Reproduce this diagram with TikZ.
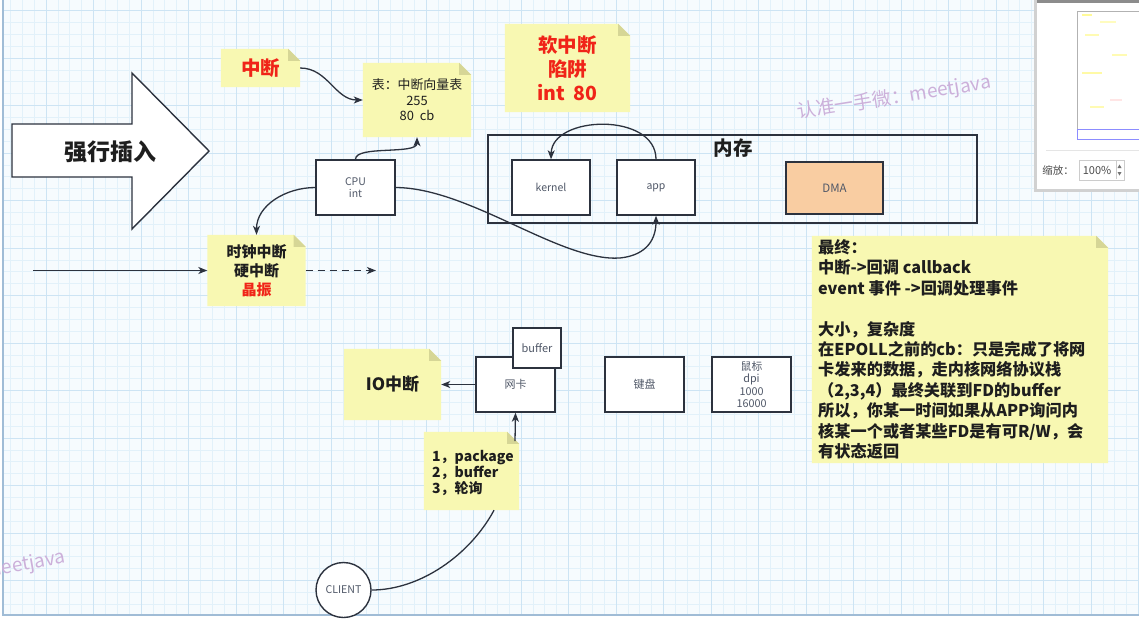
\documentclass[tikz,border=0pt]{standalone}
\usepackage{fontspec}
\setmainfont{Noto Sans CJK SC}
\usetikzlibrary{arrows.meta}
\definecolor{bgc}{RGB}{246,251,254}
\definecolor{minorc}{RGB}{226,241,250}
\definecolor{majorc}{RGB}{205,228,244}
\definecolor{edgec}{RGB}{160,188,214}
\definecolor{notey}{RGB}{248,248,178}
\definecolor{foldc}{RGB}{214,214,150}
\definecolor{ink}{RGB}{44,50,62}
\definecolor{txt}{RGB}{30,30,30}
\definecolor{redt}{RGB}{240,36,24}
\definecolor{graytxt}{RGB}{80,88,104}
\definecolor{dmac}{RGB}{249,205,162}
\definecolor{wm}{RGB}{204,176,218}
\pgfdeclarelayer{gridl}
\pgfdeclarelayer{notel}
\pgfsetlayers{gridl,notel,main}
\newcommand\fsz[2]{\fontsize{#1}{#2}\selectfont}
\newcommand\notebg[1]{%
  \fill[notey] (#1.south west) -- (#1.north west) -- ([xshift=-12pt]#1.north east)
     -- ([yshift=-12pt]#1.north east) -- (#1.south east) -- cycle;
  \fill[foldc] ([xshift=-12pt]#1.north east) -- ([yshift=-12pt]#1.north east)
     -- ([xshift=-12pt,yshift=-12pt]#1.north east) -- cycle;}
\begin{document}
\begin{tikzpicture}[x=1pt,y=-1pt,
  box/.style={draw=ink, line width=1.4pt, fill=white, minimum width=79pt, minimum height=55pt,
     inner sep=0pt, text=graytxt, font=\fsz{10.5}{12.7}, align=center},
  note/.style={inner sep=0pt, align=center, text=txt},
  conn/.style={draw=ink, line width=1.3pt},
  arr/.style={conn, -{Stealth[length=9pt,width=7pt,inset=2.5pt]}},
  wmark/.style={text=wm, font=\fsz{19}{22}, inner sep=0pt}]
\useasboundingbox (0,0) rectangle (1139,622);

% ---------- background grid ----------
\begin{pgfonlayer}{gridl}
  \fill[white] (0,0) rectangle (1139,622);
  \fill[bgc] (3,0) rectangle (1139,615);
  \foreach \i in {1,...,96} \draw[minorc, line width=0.6pt] ({-1.5+11.875*\i},0) -- ({-1.5+11.875*\i},615);
  \foreach \i in {1,...,51} \draw[minorc, line width=0.6pt] (3,{-1.375+11.875*\i}) -- (1139,{-1.375+11.875*\i});
  \foreach \i in {1,...,24} \draw[majorc, line width=0.8pt] ({-1.5+47.5*\i},0) -- ({-1.5+47.5*\i},615);
  \foreach \i in {0,...,12} \draw[majorc, line width=0.8pt] (3,{10.5+47.5*\i}) -- (1139,{10.5+47.5*\i});
  \draw[edgec, line width=1.2pt] (3,0) -- (3,615) -- (1139,615);
\end{pgfonlayer}

% ---------- big arrow ----------
\draw[ink, line width=1.4pt, fill=white] (12,124) -- (132,124) -- (132,73) -- (209,151)
   -- (132,229) -- (132,177) -- (12,177) -- cycle;
\node[note, font=\fsz{23}{26}\bfseries] (force) at (110,152) {强行插入};

% ---------- notes ----------
\node[note, minimum width=79pt, minimum height=38pt, text=redt, font=\fsz{19.5}{22}\bfseries] (zd) at (260.5,68) {中断};
\node[note, minimum width=108pt, minimum height=74pt, font=\fsz{12.9}{15.5}] (tbl) at (417,100) {表：中断向量表\\255\\80~~cb};
\node[note, minimum width=98pt, minimum height=71pt, font=\fsz{15}{19}\bfseries] (clk) at (256.5,270.5) {时钟中断\\硬中断\\\textcolor{redt}{晶振}};
\node[note, minimum width=125pt, minimum height=88pt, text=redt, font=\fsz{19.5}{24}\bfseries] (soft) at (567.5,68) {软中断\\陷阱\\int~~80};
\node[note, minimum width=97pt, minimum height=71pt, font=\fsz{17}{20}\bfseries] (io) at (392.5,384.5) {IO中断};
\node[note, minimum width=95pt, minimum height=78pt] (n123) at (471.5,471) {};
\node[note, anchor=base west, align=left, font=\fsz{14}{16}\bfseries] (n123t) at (432,493) {1，package\\2，buffer\\3，轮询};
\node[note, minimum width=296pt, minimum height=227pt] (fin) at (960,349.5) {};
\node[note, anchor=base west, align=left, font=\fsz{16.2}{20.4}\bfseries] (fint) at (818,457.5) {%
最终：\\
中断->回调 callback\\
event 事件 ->回调处理事件\\
\mbox{}\\
大小，复杂度\\
在EPOLL之前的cb：只是完成了将网\\
卡发来的数据，走内核网络协议栈\\
（2,3,4）最终关联到FD的buffer\\
所以，你某一时间如果从APP询问内\\
核某一个或者某些FD是有可R/W，会\\
有状态返回};

\begin{pgfonlayer}{notel}
  \notebg{zd}\notebg{tbl}\notebg{clk}\notebg{soft}\notebg{io}\notebg{n123}\notebg{fin}
\end{pgfonlayer}

% ---------- boxes ----------
\node[box] (cpu) at (355.5,187.5) {CPU\\int};
\node[draw=ink, line width=1.4pt, minimum width=489pt, minimum height=88pt, inner sep=0pt] (mem) at (732.5,179) {};
\node[note, font=\fsz{19.5}{22}\bfseries] (memt) at (733,148) {内存};
\node[box, minimum width=78pt] (kernel) at (551,187.5) {kernel};
\node[box, minimum width=78pt] (app) at (656,187.5) {app};
\node[box, minimum width=97pt, minimum height=52pt, fill=dmac, font=\fsz{11.5}{13}] (dma) at (834.5,188) {DMA};
\node[box, font=\fsz{11}{13}] (nic) at (515.5,384.5) {网卡};
\node[box, minimum width=48pt, minimum height=40pt, font=\fsz{11}{13}] (buf) at (537,348) {buffer};
\node[box, font=\fsz{11}{13}] (kbd) at (644.5,384.5) {键盘};
\node[box, font=\fsz{10.8}{12.5}] (mouse) at (751.5,384.5) {鼠标\\dpi\\1000\\16000};
\node[box, circle, minimum size=55pt, minimum width=55pt, minimum height=55pt, font=\fsz{10.6}{12}] (client) at (343.5,590) {CLIENT};

% ---------- connectors ----------
\coordinate (lin) at (33,270.5);
\coordinate (dend) at (376,270.5);
\coordinate (n123top) at (515,441);
\draw[arr] (zd.east) to[out=0,in=180] (tbl.west);
\draw[arr] (cpu.north) .. controls (355.5,145) and (417,155) .. (tbl.south);
\draw[arr] (cpu.west) to[out=180,in=90] (clk.north);
\draw[arr] (cpu.east) .. controls (470,188) and (560,262) .. (620,258)
   .. controls (648,255) and (656,238) .. (app.south);
\draw[arr] (app.north) .. controls (656,112) and (552,115) .. (kernel.north);
\draw[arr] (lin) -- (clk.west);
\draw[arr, dash pattern=on 7pt off 5pt] (clk.east) -- (dend);
\draw[arr] (nic.west) -- (io.east);
\draw[arr] (n123top) -- (nic.south);
\draw[conn] (client.east) .. controls (420,590) and (470,555) .. ([xshift=22.5pt]n123.south);

% ---------- watermarks ----------
\node[wmark, rotate=9] (wm1) at (894,98) {认准一手微：meetjava};
\node[wmark, rotate=10] (wm2) at (25,565) {meetjava};

% ---------- side panel ----------
\fill[black!18] (1034,0) rectangle (1139,192);
\fill[white] (1037,0) rectangle (1139,189);
\fill[black!45] (1037,0) rectangle (1139,3);
\draw[black!30, line width=0.8pt] (1077.5,11) rectangle (1145,139);
\draw[blue!45, line width=1pt] (1077.5,129) rectangle (1145,139);
\foreach \xx/\yy/\ww/\cc in {1082/15/10/yellow!40, 1085/35/14/yellow!30, 1100/22/16/yellow!25,
   1082/73/20/yellow!35, 1110/100/12/pink!40, 1090/107/14/yellow!30, 1112/55/15/yellow!30}
  \draw[\cc, line width=1.5pt] (\xx,\yy) -- ++(\ww,0);
\draw[black!10, line width=1pt] (1046,150) -- (1139,150);
\node[inner sep=0pt, text=black!70, font=\fsz{10.5}{12}] (zoomlbl) at (1058,170) {缩放：};
\draw[black!20, line width=0.8pt] (1079.5,160) rectangle (1124.5,180);
\node[inner sep=0pt, text=black!70, font=\fsz{11}{12}] (zoomval) at (1097,170) {100\%};
\draw[black!20] (1116,161) -- (1116,179);
\fill[black!55] (1117.5,168) -- (1121.5,168) -- (1119.5,164.5) -- cycle;
\fill[black!55] (1117.5,172) -- (1121.5,172) -- (1119.5,175.5) -- cycle;
\end{tikzpicture}
\end{document}
